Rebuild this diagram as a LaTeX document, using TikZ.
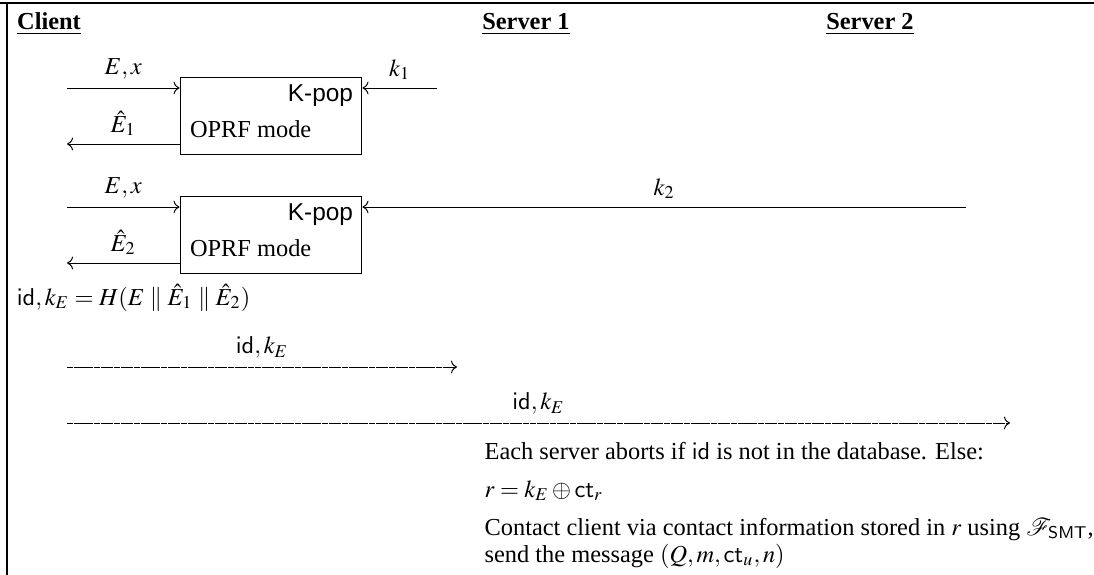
\documentclass[tikz,border=0pt]{standalone}
\usepackage{mathptmx}
\usepackage{fontspec}
\setmainfont{Liberation Serif}
\setsansfont{Liberation Sans}
\usetikzlibrary{arrows.meta,positioning}

\begin{document}
\begin{tikzpicture}[x=0.41pt,y=-0.41pt,
  oprfbox/.style={draw,minimum width=74.6pt,minimum height=31.2pt,inner sep=0pt},
  lbl/.style={midway,above=2.2pt,inner sep=1pt},
  dmsg/.style={->,dash pattern=on 2.5pt off 0.25pt}]
  \useasboundingbox (0,0) rectangle (1094,575);
  % frame (top and left edge)
  \draw[line width=0.8pt] (0,3) -- (1094,3);
  \draw[line width=0.8pt] (7,3) -- (7,575);
  % party headings
  \node[anchor=base] (client) at (49,30) {\underline{\textbf{Client}}};
  \node[anchor=base] (srv1) at (526,30) {\underline{\textbf{Server 1}}};
  \node[anchor=base] (srv2) at (870,30) {\underline{\textbf{Server 2}}};
  % one OPRF box per server
  \foreach \i/\yy/\sx in {1/116/437,2/235/966} {
    \node[oprfbox] (op\i) at (271,\yy) {};
    \node[anchor=base east,font=\sffamily,inner sep=0pt] (kp\i) at ([xshift=-3.7pt,yshift=-9.8pt]op\i.north east) {K-pop};
    \node[anchor=base west,inner sep=0pt] (md\i) at ([xshift=4.1pt,yshift=7pt]op\i.south west) {OPRF mode};
    \coordinate (cin\i) at (67,\yy-28);
    \coordinate (cout\i) at (67,\yy+28);
    \coordinate (key\i) at (\sx,\yy-28);
    \draw[->] (cin\i) -- (cin\i -| op\i.west) node[lbl] {$E,x$};
    \draw[->] (cout\i -| op\i.west) -- (cout\i) node[lbl] {$\hat{E}_\i$};
    \draw[->] (key\i) -- (key\i -| op\i.east) node[lbl] {$k_\i$};
  }
  % client derives id and key
  \node[anchor=base west,inner sep=1pt] (hash) at (14,305) {$\mathsf{id},k_E = H(E \parallel \hat{E}_1 \parallel \hat{E}_2)$};
  \coordinate (m1) at (67,367); \coordinate (s1) at (457,367);
  \coordinate (m2) at (67,423); \coordinate (s2) at (1010,423);
  \draw[dmsg] (m1) -- (s1) node[lbl] {$\mathsf{id},k_E$};
  \draw[dmsg] (m2) -- (s2) node[lbl] {$\mathsf{id},k_E$};
  % server side
  \node[anchor=base west] (abort) at (476,459) {Each server aborts if $\mathsf{id}$ is not in the database. Else:};
  \node[anchor=base west] (rkey) at (476,497) {$r = k_E \oplus \mathsf{ct}_r$};
  \node[anchor=base west] (contact) at (476,535) {Contact client via contact information stored in $r$ using $\mathcal{F}_{\mathsf{SMT}}$,};
  \node[anchor=base west] (send) at (476,562) {send the message $(Q,m,\mathsf{ct}_u,n)$};
\end{tikzpicture}
\end{document}
